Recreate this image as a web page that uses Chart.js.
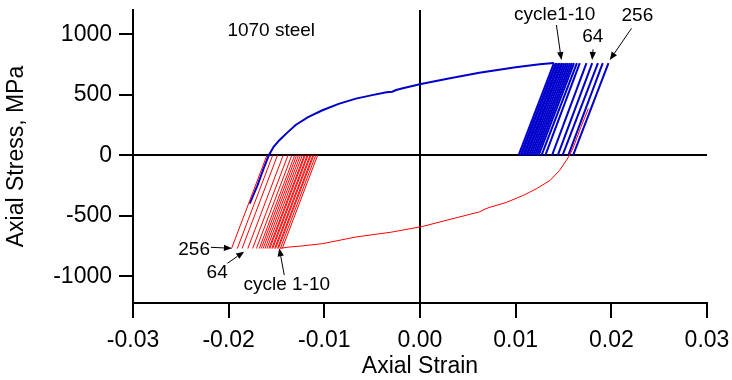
<!DOCTYPE html>
<html>
<head>
<meta charset="utf-8">
<script src="https://cdn.jsdelivr.net/npm/chart.js@4/dist/chart.umd.min.js"></script>
<style>
  html, body { margin: 0; padding: 0; background: #fff; }
  #wrap { width: 732px; height: 380px; }
</style>
</head>
<body>
<div id="wrap"><canvas id="c" width="732" height="380"></canvas></div>
<script>
// Cyclic stress-strain response of 1070 steel

// Upper (tension-going) branch
const upperStrain = [-0.0178, -0.0170, -0.0163, -0.0158, -0.0153, -0.0147, -0.0139, -0.0130, -0.0117, -0.0102,
                     -0.0085, -0.0067, -0.0050, -0.0035, -0.0029, -0.0025, -0.0018, 0.0001, 0.0030, 0.0062,
                     0.0100, 0.0125, 0.0140];
const upperStress = [-400, -250, -100, 0, 70, 125, 185, 250, 315, 372,
                     425, 468, 497, 520, 525, 539, 553, 589, 635, 682,
                     727, 752, 762];

// Lower (compression-going) branch
const lowerStrain = [0.0176, 0.0168, 0.0160, 0.0156, 0.0153, 0.0146, 0.0136, 0.0122, 0.0108, 0.0090,
                     0.0072, 0.0069, 0.0062, 0.0040, 0.0003, -0.0030, -0.0067, -0.0102, -0.0125, -0.0137,
                     -0.0146];
const lowerStress = [386, 230, 60, -5, -41, -124, -207, -275, -331, -390,
                     -432, -441, -468, -512, -587, -635, -675, -730, -750, -758,
                     -768];

// Tension peaks and zero-stress strains of the unloading lines
const tensionPeakStress = 762;
const blueTip  = [0.0140, 0.0142, 0.0143, 0.0145, 0.0146, 0.0148, 0.0149, 0.0151, 0.0153, 0.0155,
                  0.0157, 0.0159, 0.0161, 0.0164, 0.0167, 0.0174, 0.0180, 0.0186, 0.0191, 0.0197];
const blueZero = [0.0103, 0.0105, 0.0106, 0.0108, 0.0109, 0.0111, 0.0112, 0.0114, 0.0116, 0.0118,
                  0.0120, 0.0122, 0.0124, 0.0127, 0.0131, 0.0138, 0.0144, 0.0149, 0.0155, 0.0160];

// Compression peaks and zero-stress strains of the reloading lines
const compressionPeakStress = -770;
const redTip  = [-0.0197, -0.0191, -0.0186, -0.0180, -0.0175, -0.0171, -0.0168, -0.0166, -0.0164, -0.0162,
                 -0.0160, -0.0158, -0.0157, -0.0155, -0.0154, -0.0152, -0.0151, -0.0149, -0.0148, -0.0146, -0.0144];
const redZero = [-0.0160, -0.0154, -0.0149, -0.0143, -0.0138, -0.0134, -0.0131, -0.0129, -0.0127, -0.0125,
                 -0.0123, -0.0121, -0.0120, -0.0118, -0.0117, -0.0115, -0.0114, -0.0112, -0.0111, -0.0109, -0.0107];

// Axis ranges and ticks
const xTicks = [-0.03, -0.02, -0.01, 0.00, 0.01, 0.02, 0.03];
const yTicks = [-1000, -500, 0, 500, 1000];

// Callout labels: text, label position, arrow tail, arrow head (data units)
const notes = [
  { text: 'cycle1-10',  at: [0.01408, 1158],   from: [0.01426, 1076],  to: [0.01478, 787] },
  { text: '64',         at: [0.01806, 976],    from: [0.01809, 875],   to: [0.01799, 787] },
  { text: '256',        at: [0.02272, 1150],   from: [0.02211, 1049],  to: [0.01984, 787] },
  { text: '256',        at: [-0.02361, -782],  from: [-0.02186, -760], to: [-0.01966, -768] },
  { text: '64',         at: [-0.02120, -972],  from: [-0.02013, -892], to: [-0.01838, -796] },
  { text: 'cycle 1-10', at: [-0.01393, -1071], from: [-0.01419, -989], to: [-0.01471, -768] }
];
const materialLabel = { text: '1070 steel', at: [-0.01555, 1026] };

const BLUE = '#0000cc';
const RED = '#ff0000';
const FONT = '"Liberation Sans", Arial, Helvetica, sans-serif';
Chart.defaults.font.family = FONT;

const pts = (xs, ys) => xs.map((x, i) => ({ x: x, y: ys[i] }));
const lineSet = (data, color, width) => ({
  data: data, showLine: true, borderColor: color, borderWidth: width,
  pointRadius: 0, pointHoverRadius: 0, fill: false, tension: 0
});

const datasets = [];
// compression side drawn on top
datasets.push(lineSet(pts(lowerStrain, lowerStress), RED, 1));
redTip.forEach((t, i) => datasets.push(lineSet([{ x: redZero[i], y: 0 }, { x: t, y: compressionPeakStress }], RED, 1)));
datasets.push(lineSet(pts(upperStrain, upperStress), BLUE, 2));
blueTip.forEach((t, i) => datasets.push(lineSet([{ x: t, y: tensionPeakStress }, { x: blueZero[i], y: 0 }], BLUE, 2)));

const isZero = v => Math.abs(v) < 1e-9;

const calloutPlugin = {
  id: 'callouts',
  afterDatasetsDraw(chart) {
    const { ctx, scales: { x, y } } = chart;
    const px = p => [x.getPixelForValue(p[0]), y.getPixelForValue(p[1])];
    ctx.save();
    ctx.fillStyle = '#000';
    ctx.strokeStyle = '#000';
    ctx.font = '19px ' + FONT;
    ctx.textAlign = 'center';
    ctx.textBaseline = 'middle';
    const m = px(materialLabel.at);
    ctx.fillText(materialLabel.text, m[0], m[1]);
    notes.forEach(n => {
      const a = px(n.at), f = px(n.from), t = px(n.to);
      ctx.fillText(n.text, a[0], a[1]);
      const ang = Math.atan2(t[1] - f[1], t[0] - f[0]);
      const head = 8, half = 3.2;
      const bx = t[0] - head * Math.cos(ang), by = t[1] - head * Math.sin(ang);
      ctx.lineWidth = 1;
      ctx.beginPath();
      ctx.moveTo(f[0], f[1]);
      ctx.lineTo(bx, by);
      ctx.stroke();
      ctx.beginPath();
      ctx.moveTo(t[0], t[1]);
      ctx.lineTo(bx + half * Math.sin(ang), by - half * Math.cos(ang));
      ctx.lineTo(bx - half * Math.sin(ang), by + half * Math.cos(ang));
      ctx.closePath();
      ctx.fill();
    });
    ctx.restore();
  }
};

new Chart(document.getElementById('c'), {
  type: 'scatter',
  data: { datasets: datasets },
  plugins: [calloutPlugin],
  options: {
    responsive: false,
    animation: false,
    devicePixelRatio: 1,
    layout: { padding: { top: 10, right: 25, left: 0, bottom: 0 } },
    plugins: { legend: { display: false }, tooltip: { enabled: false } },
    scales: {
      x: {
        type: 'linear',
        min: xTicks[0], max: xTicks[xTicks.length - 1],
        afterBuildTicks: s => { s.ticks = xTicks.map(v => ({ value: v })); },
        afterFit: s => { s.height = 77; s.paddingLeft = 0; s.paddingRight = 0; },
        ticks: {
          color: '#000', font: { size: 23 }, padding: 9, maxRotation: 0, autoSkip: false,
          callback: v => isZero(v) ? '0.00' : Number(v).toFixed(2)
        },
        grid: {
          drawOnChartArea: true,
          color: c => (c.tick && isZero(c.tick.value)) ? '#000' : 'rgba(0,0,0,0)',
          lineWidth: 2, tickColor: '#000', tickLength: 15, tickWidth: 2
        },
        border: { display: true, color: '#000', width: 2 },
        title: { display: true, text: 'Axial Strain', color: '#000', font: { size: 23 }, padding: 0 }
      },
      y: {
        type: 'linear',
        min: -1220, max: 1200,
        afterBuildTicks: s => { s.ticks = yTicks.map(v => ({ value: v })); },
        afterFit: s => { s.width = 133; s.paddingTop = 0; s.paddingBottom = 0; },
        ticks: {
          color: '#000', font: { size: 23 }, padding: 7, autoSkip: false,
          callback: v => String(Math.round(v))
        },
        grid: {
          drawOnChartArea: true,
          color: c => (c.tick && isZero(c.tick.value)) ? '#000' : 'rgba(0,0,0,0)',
          lineWidth: 2, tickColor: '#000', tickLength: 14, tickWidth: 2
        },
        border: { display: true, color: '#000', width: 2 },
        title: { display: true, text: 'Axial Stress, MPa', color: '#000', font: { size: 23 }, padding: { top: 3, bottom: 0 } }
      }
    }
  }
});
</script>
</body>
</html>
